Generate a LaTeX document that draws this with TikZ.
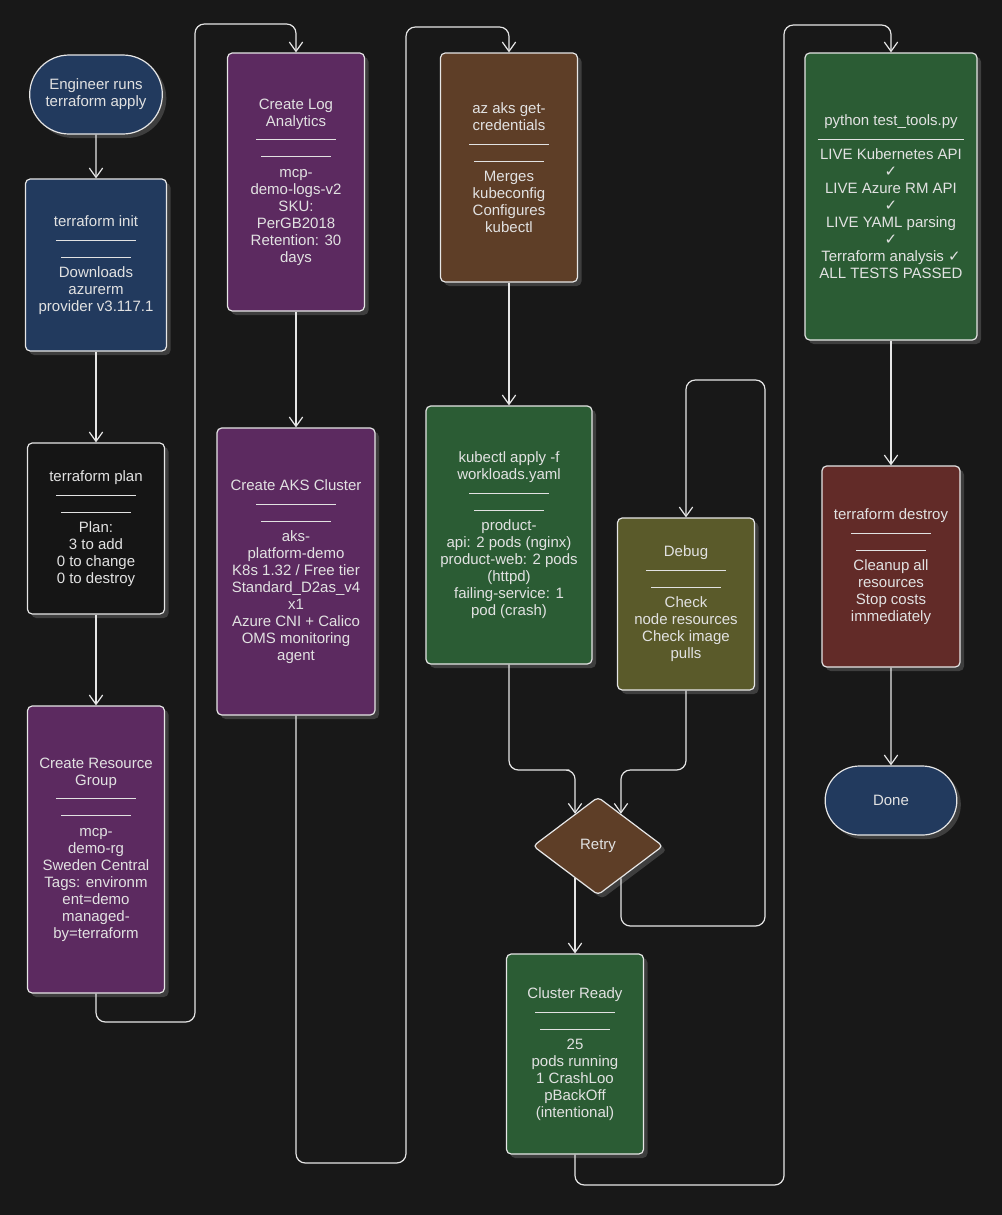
\documentclass[tikz,border=0pt]{standalone}
\usepackage{fontspec}
\setmainfont{Liberation Sans}
\newfontfamily\symfont{DejaVu Sans}
\usetikzlibrary{arrows.meta,shapes.geometric,shapes.misc,shadows,calc}

\definecolor{bgc}{HTML}{181818}
\definecolor{txt}{HTML}{E2E2E2}
\definecolor{linec}{HTML}{E6E6E6}
\definecolor{shade}{HTML}{3E3E3E}
\definecolor{navy}{HTML}{223A5E}
\definecolor{plum}{HTML}{5C2A60}
\definecolor{bark}{HTML}{5E3E27}
\definecolor{leaf}{HTML}{2B5C34}
\definecolor{olive}{HTML}{5A5A2A}
\definecolor{rust}{HTML}{622B28}
\definecolor{ink}{HTML}{151515}

\newcommand{\ok}{{\symfont ✓}}
\newcommand{\splitbar}{\rule[0.2em]{60pt}{0.6pt}\\\rule[0.2em]{52pt}{0.6pt}}

\tikzset{
  box/.style={draw=linec, line width=0.9pt, rounded corners=3.5pt, text=txt,
    align=center, inner sep=2pt, font=\fontsize{11.25}{12.75}\selectfont,
    drop shadow={shadow xshift=3pt, shadow yshift=-3pt, fill=shade, opacity=1}},
  terminal/.style={box, rounded rectangle, rounded corners=0pt},
  decision/.style={box, diamond, aspect=1.33, inner sep=0pt, rounded corners=3pt},
  flow/.style={draw=linec, line width=0.9pt, rounded corners=7pt,
    -{Straight Barb[length=7pt,width=10pt]}},
}

\begin{document}
\begin{tikzpicture}[x=0.75pt, y=-0.75pt]
    \fill[bgc] (0,0) rectangle (1002,1215);
    \useasboundingbox (0,0) rectangle (1002,1215);

    % Column 1: start and terraform steps
    \node[terminal, fill=navy, minimum width=103.5pt, minimum height=59.25pt] (start) at (96,94.5)
        {Engineer runs\\terraform apply};
    \node[box, fill=navy, minimum width=105.75pt, minimum height=129pt] (init) at (96,265)
        {terraform init\\\splitbar\\Downloads\\azurerm\\provider v3.117.1};
    \node[box, fill=ink, minimum width=102.75pt, minimum height=128.25pt] (plan) at (96,528.5)
        {terraform plan\\\splitbar\\Plan:\\3 to add\\0 to change\\0 to destroy};
    \node[box, fill=plum, minimum width=102.75pt, minimum height=215.25pt] (rg) at (96,849.5)
        {Create Resource\\Group\\\splitbar\\mcp-\\demo-rg\\Sweden Central\\Tags: environm\\ent=demo\\managed-\\by=terraform};

    % Column 2: Azure resources
    \node[box, fill=plum, minimum width=102.75pt, minimum height=193.5pt] (logs) at (296,182)
        {Create Log\\Analytics\\\splitbar\\mcp-\\demo-logs-v2\\SKU:\\PerGB2018\\Retention: 30\\days};
    \node[box, fill=plum, minimum width=118.5pt, minimum height=215.25pt] (aks) at (296,571.5)
        {Create AKS Cluster\\\splitbar\\aks-\\platform-demo\\K8s 1.32 / Free tier\\Standard\_D2as\_v4\\x1\\Azure CNI + Calico\\OMS monitoring\\agent};

    % Column 3: kubectl and retry loop
    \node[box, fill=bark, minimum width=102.75pt, minimum height=171.75pt] (creds) at (509,167.5)
        {az aks get-\\credentials\\\splitbar\\Merges\\kubeconfig\\Configures\\kubectl};
    \node[box, fill=leaf, minimum width=124.5pt, minimum height=193.5pt] (apply) at (509,535)
        {kubectl apply -f\\workloads.yaml\\\splitbar\\product-\\api: 2 pods (nginx)\\product-web: 2 pods\\(httpd)\\failing-service: 1\\pod (crash)};
    \node[box, fill=olive, minimum width=102.75pt, minimum height=129pt] (debug) at (686,604)
        {Debug\\\splitbar\\Check\\node resources\\Check image\\pulls};
    \node[decision, fill=bark, minimum width=97.5pt, minimum height=73.5pt] (retry) at (598,846)
        {Retry};
    \node[box, fill=leaf, minimum width=102.75pt, minimum height=150pt] (ready) at (575,1054)
        {Cluster Ready\\\splitbar\\25\\pods running\\1 CrashLoo\\pBackOff\\(intentional)};

    % Column 4: tests and teardown
    \node[box, fill=leaf, minimum width=129pt, minimum height=215.25pt] (tests) at (891,196.5)
        {python test\_tools.py\\\rule[0.2em]{110pt}{0.6pt}\\LIVE Kubernetes API\\\ok\\LIVE Azure RM API\\\ok\\LIVE YAML parsing\\\ok\\Terraform analysis \ok\\ALL TESTS PASSED};
    \node[box, fill=rust, minimum width=103.5pt, minimum height=150.75pt] (destroy) at (891,566.5)
        {terraform destroy\\\splitbar\\Cleanup all\\resources\\Stop costs\\immediately};
    \node[terminal, fill=navy, minimum width=102.75pt, minimum height=51.75pt] (done) at (891,800.5)
        {Done};

    % Connectors
    \draw[flow] (start) -- (init);
    \draw[flow] (init) -- (plan);
    \draw[flow] (plan) -- (rg);
    \draw[flow] (rg.south) |- (195,1022) -- (195,24) -| (logs.north);
    \draw[flow] (logs) -- (aks);
    \draw[flow] (aks.south) |- (406,1163) -- (406,27) -| (creds.north);
    \draw[flow] (creds) -- (apply);
    \draw[flow] (apply.south) |- (560,770) -| ($(retry.north)!0.35!(retry.west)$);
    \draw[flow] (debug.south) |- (640,770) -| ($(retry.north)!0.35!(retry.east)$);
    \draw[flow] ($(retry.south)!0.35!(retry.west)$) -- (ready.north -| {$(retry.south)!0.35!(retry.west)$});
    \draw[flow] ($(retry.south)!0.35!(retry.east)$) |- (765,926) -- (765,380) -| (debug.north);
    \draw[flow] (ready.south) |- (784,1185) -- (784,25) -| (tests.north);
    \draw[flow] (tests) -- (destroy);
    \draw[flow] (destroy) -- (done);
\end{tikzpicture}
\end{document}
